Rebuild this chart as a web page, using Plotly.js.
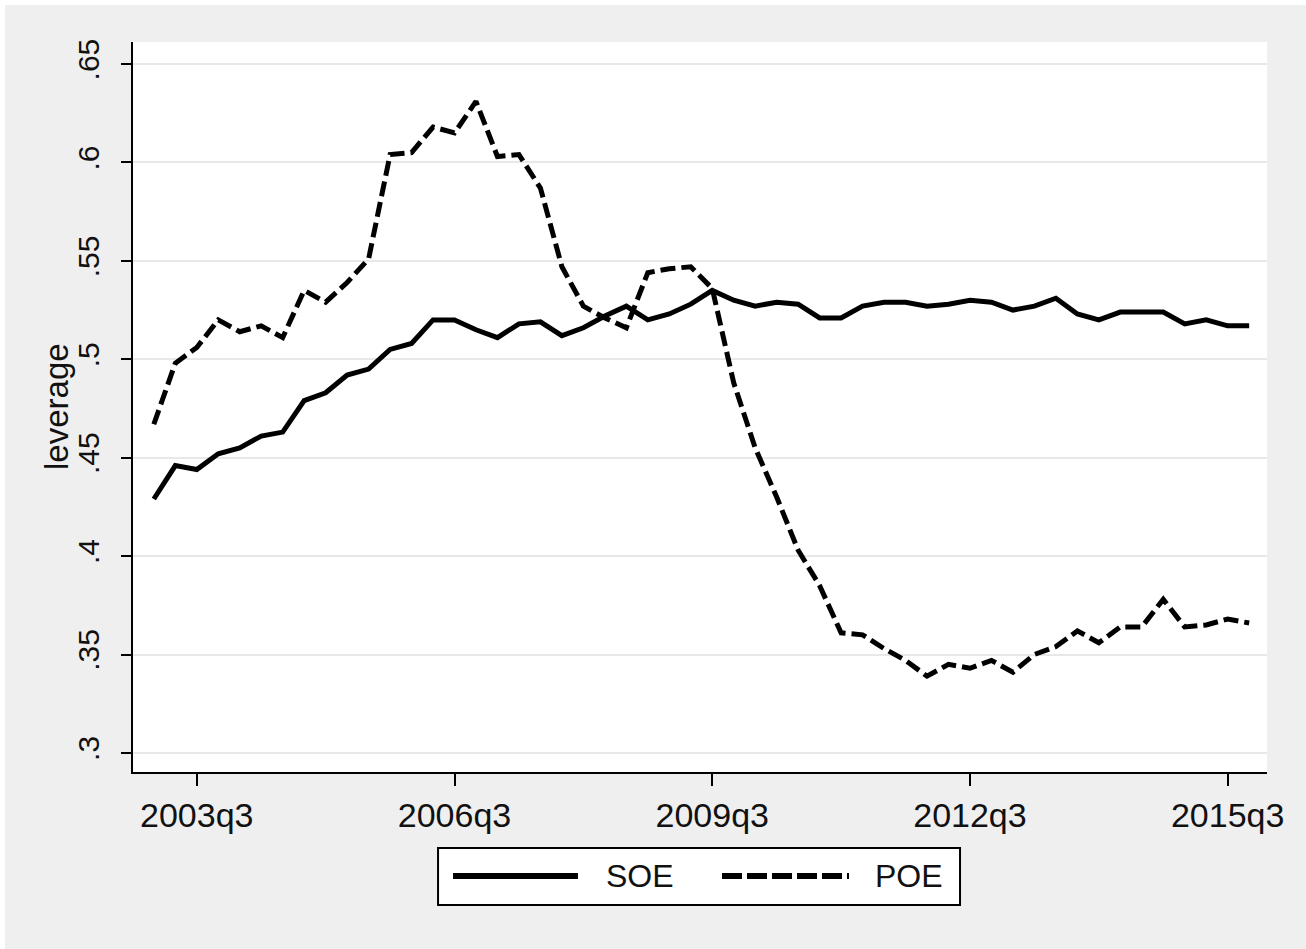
<!DOCTYPE html>
<html>
<head>
<meta charset="utf-8">
<script src="https://cdn.plot.ly/plotly-3.0.1.min.js"></script>
<style>
  html, body { margin: 0; padding: 0; background: #ffffff; }
  #chart { position: absolute; left: 5px; top: 5px; width: 1301px; height: 944px; }
</style>
</head>
<body>
<div id="chart"></div>
<script>
// Quarterly periods, 2003q1 .. 2015q4
const quarters = [
  '2003q1','2003q2','2003q3','2003q4','2004q1','2004q2','2004q3','2004q4',
  '2005q1','2005q2','2005q3','2005q4','2006q1','2006q2','2006q3','2006q4',
  '2007q1','2007q2','2007q3','2007q4','2008q1','2008q2','2008q3','2008q4',
  '2009q1','2009q2','2009q3','2009q4','2010q1','2010q2','2010q3','2010q4',
  '2011q1','2011q2','2011q3','2011q4','2012q1','2012q2','2012q3','2012q4',
  '2013q1','2013q2','2013q3','2013q4','2014q1','2014q2','2014q3','2014q4',
  '2015q1','2015q2','2015q3','2015q4'
];

// Average leverage of state-owned enterprises
const soe = [
  0.429, 0.446, 0.444, 0.452, 0.455, 0.461, 0.463, 0.479,
  0.483, 0.492, 0.495, 0.505, 0.508, 0.520, 0.520, 0.515,
  0.511, 0.518, 0.519, 0.512, 0.516, 0.522, 0.527, 0.520,
  0.523, 0.528, 0.535, 0.530, 0.527, 0.529, 0.528, 0.521,
  0.521, 0.527, 0.529, 0.529, 0.527, 0.528, 0.530, 0.529,
  0.525, 0.527, 0.531, 0.523, 0.520, 0.524, 0.524, 0.524,
  0.518, 0.520, 0.517, 0.517
];

// Average leverage of privately-owned enterprises
const poe = [
  0.467, 0.498, 0.506, 0.520, 0.514, 0.517, 0.511, 0.535,
  0.529, 0.539, 0.551, 0.604, 0.605, 0.618, 0.615, 0.631,
  0.603, 0.604, 0.587, 0.547, 0.527, 0.521, 0.516, 0.544,
  0.546, 0.547, 0.536, 0.488, 0.455, 0.430, 0.403, 0.385,
  0.361, 0.360, 0.353, 0.347, 0.339, 0.345, 0.343, 0.347,
  0.341, 0.350, 0.354, 0.362, 0.356, 0.364, 0.364, 0.378,
  0.364, 0.365, 0.368, 0.366
];

const xTicks = ['2003q3', '2006q3', '2009q3', '2012q3', '2015q3'];
const yTickVals = [0.3, 0.35, 0.4, 0.45, 0.5, 0.55, 0.6, 0.65];
const yTickText = ['.3', '.35', '.4', '.45', '.5', '.55', '.6', '.65'];
const seriesNames = ['SOE', 'POE'];
const yTitle = 'leverage';

const FONT = 'Liberation Sans, Arial, sans-serif';
const INK = '#111111';

const traces = [
  {
    x: quarters, y: soe, name: seriesNames[0], type: 'scatter', mode: 'lines',
    line: { color: '#000000', width: 5 }, showlegend: false
  },
  {
    x: quarters, y: poe, name: seriesNames[1], type: 'scatter', mode: 'lines',
    line: { color: '#000000', width: 5, dash: '15px,6px' }, showlegend: false
  }
];

// Legend drawn as a framed key under the plot
const key = { x0: 0.269, x1: 0.7293, y0: -0.1822, y1: -0.1041, yMid: -0.1425 };

const layout = {
  width: 1301, height: 944,
  paper_bgcolor: '#efefef',
  plot_bgcolor: '#ffffff',
  margin: { l: 128, r: 39, t: 37, b: 177 },
  font: { family: FONT, color: INK },
  showlegend: false,
  xaxis: {
    type: 'category',
    range: [-0.97, 51.83],
    tickmode: 'array', tickvals: xTicks, ticktext: xTicks,
    ticks: 'outside', ticklen: 12, tickwidth: 2, tickcolor: '#000',
    tickfont: { size: 34, family: FONT, color: INK },
    ticklabelstandoff: 0,
    showgrid: false, zeroline: false,
    showline: true, linecolor: '#000', linewidth: 2,
    fixedrange: true
  },
  yaxis: {
    range: [0.2903, 0.6612],
    tickmode: 'array', tickvals: yTickVals, ticktext: yTickText,
    tickangle: -90,
    ticks: 'outside', ticklen: 10, tickwidth: 2, tickcolor: '#000',
    tickfont: { size: 30, family: FONT, color: INK },
    ticklabelstandoff: 10,
    showgrid: true, gridcolor: '#e8e8e8', gridwidth: 2,
    zeroline: false,
    showline: true, linecolor: '#000', linewidth: 2,
    fixedrange: true
  },
  shapes: [
    { type: 'rect', xref: 'paper', yref: 'paper', x0: key.x0, x1: key.x1, y0: key.y0, y1: key.y1,
      line: { color: '#000', width: 2 }, fillcolor: '#ffffff', layer: 'above' },
    { type: 'line', xref: 'paper', yref: 'paper', x0: 0.2822, x1: 0.3924, y0: key.yMid, y1: key.yMid,
      line: { color: '#000', width: 6 } },
    { type: 'line', xref: 'paper', yref: 'paper', x0: 0.5194, x1: 0.6314, y0: key.yMid, y1: key.yMid,
      line: { color: '#000', width: 6, dash: '20px,5px' } }
  ],
  annotations: [
    // vertical axis title
    { xref: 'paper', yref: 'paper', x: -0.0679, y: 0.5, xanchor: 'center', yanchor: 'middle',
      textangle: -90, text: yTitle, showarrow: false, font: { size: 33, family: FONT, color: INK } },
    // key labels
    { xref: 'paper', yref: 'paper', x: 0.4153, y: key.yMid, xanchor: 'left', yanchor: 'middle',
      text: seriesNames[0], showarrow: false, font: { size: 32, family: FONT, color: INK } },
    { xref: 'paper', yref: 'paper', x: 0.6526, y: key.yMid, xanchor: 'left', yanchor: 'middle',
      text: seriesNames[1], showarrow: false, font: { size: 32, family: FONT, color: INK } }
  ]
};

Plotly.newPlot('chart', traces, layout, { displayModeBar: false, staticPlot: true });
</script>
</body>
</html>
